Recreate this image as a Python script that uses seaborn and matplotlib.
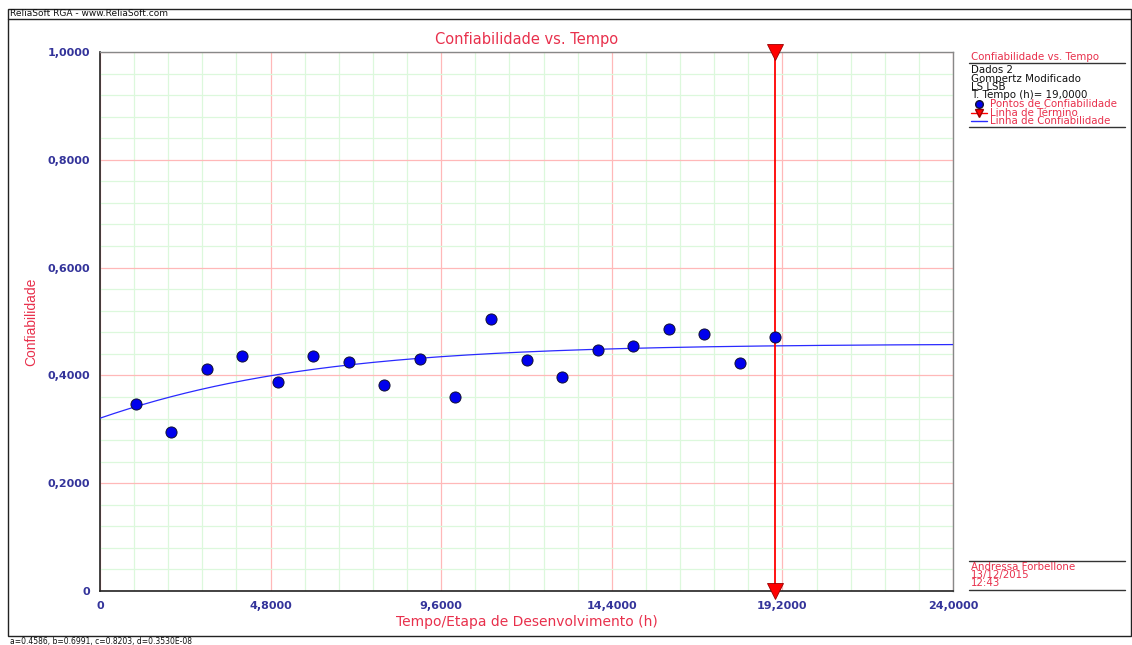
import numpy as np
import pandas as pd
import matplotlib
matplotlib.use("Agg")
import matplotlib.pyplot as plt
import seaborn as sns
from matplotlib.ticker import MultipleLocator, FixedLocator, FixedFormatter
from matplotlib.lines import Line2D

# ---------------- data ----------------
stage = [1, 2, 3, 4, 5, 6, 7, 8, 9, 10, 11, 12, 13, 14, 15, 16, 17, 18, 19]
reliability = [0.347, 0.295, 0.412, 0.436, 0.388, 0.436, 0.425, 0.382, 0.430,
               0.360, 0.505, 0.429, 0.397, 0.447, 0.455, 0.486, 0.477, 0.423, 0.471]
gompertz_a = 0.4586
gompertz_b = 0.6991
gompertz_c = 0.8203
gompertz_d = 0.3530e-08
term_time = 19.0
x_ticks = [0, 4.8, 9.6, 14.4, 19.2, 24.0]
x_tick_labels = ["0", "4,8000", "9,6000", "14,4000", "19,2000", "24,0000"]
y_ticks = [0, 0.2, 0.4, 0.6, 0.8, 1.0]
y_tick_labels = ["0", "0,2000", "0,4000", "0,6000", "0,8000", "1,0000"]
legend_info = ["Dados 2", "Gompertz Modificado", "LS LSB", "T. Tempo (h)= 19,0000"]
legend_entries = ["Pontos de Confiabilidade", "Linha de Término", "Linha de Confiabilidade"]
author_lines = ["Andressa Forbellone", "13/12/2015", "12:43"]

RED_TXT = "#e8304c"
BLUE_TXT = "#33339a"

sns.set_style("white")
plt.rcParams["font.family"] = ["DejaVu Sans"]

W, H = 1132, 645
fig = plt.figure(figsize=(W / 100, H / 100), dpi=100)

def fx(px):
    return px / W

def fy(py):
    return 1 - py / H

ax = fig.add_axes([fx(100), fy(591), fx(953) - fx(100), fy(52) - fy(591)])

# grid
ax.set_xlim(0, 24)
ax.set_ylim(0, 1)
ax.xaxis.set_major_locator(FixedLocator(x_ticks))
ax.xaxis.set_major_formatter(FixedFormatter(x_tick_labels))
ax.yaxis.set_major_locator(FixedLocator(y_ticks))
ax.yaxis.set_major_formatter(FixedFormatter(y_tick_labels))
ax.xaxis.set_minor_locator(MultipleLocator(0.96))
ax.yaxis.set_minor_locator(MultipleLocator(0.04))
ax.grid(which="minor", color="#dcf8dc", linewidth=0.9, zorder=0)
ax.grid(which="major", color="#ffb8b8", linewidth=0.9, zorder=0)
ax.set_axisbelow(True)

# fitted curve (Gompertz model with the parameters shown on the chart)
T = np.linspace(0, 24, 300)
curve = pd.DataFrame({"T": T, "R": gompertz_d + gompertz_a * gompertz_b ** (gompertz_c ** T)})
sns.lineplot(data=curve, x="T", y="R", ax=ax, color="#2a2aff", linewidth=0.9, zorder=3)

# termination line
ax.axvline(term_time, color="#ff0000", linewidth=1.3, zorder=4)
ax.plot([term_time, term_time], [0, 1], linestyle="none", marker="v", markersize=11,
        color="#ff0000", markeredgecolor="#990000", markeredgewidth=0.6, clip_on=False, zorder=6)

# points
pts = pd.DataFrame({"stage": stage, "R": reliability})
sns.scatterplot(data=pts, x="stage", y="R", ax=ax, color="#0000ee", edgecolor="#111133",
                linewidth=0.7, s=64, marker="o", zorder=5)

ax.set_xlabel("Tempo/Etapa de Desenvolvimento (h)", color=RED_TXT, fontsize=10, labelpad=3)
ax.set_ylabel("")
fig.text(fx(31), fy(322), "Confiabilidade", rotation=90, color=RED_TXT, fontsize=10,
         ha="center", va="center", family=["Liberation Sans Narrow", "Liberation Sans"])
ax.set_title("Confiabilidade vs. Tempo", color=RED_TXT, fontsize=10.5, pad=6)

ax.tick_params(which="major", direction="out", length=5, width=0.8, color="#333333",
               labelcolor=BLUE_TXT, labelsize=8, pad=2)
ax.tick_params(which="minor", length=0)
for lab in ax.get_xticklabels() + ax.get_yticklabels():
    lab.set_fontweight("bold")

for side in ["left", "bottom"]:
    ax.spines[side].set_color("#222222")
    ax.spines[side].set_linewidth(1.2)
for side in ["top", "right"]:
    ax.spines[side].set_color("#888888")
    ax.spines[side].set_linewidth(1.0)

# outer frame
fig.add_artist(plt.Rectangle((fx(8), fy(636)), fx(1131) - fx(8), fy(9) - fy(636),
                             fill=False, edgecolor="#222222", linewidth=1.0,
                             transform=fig.transFigure))
fig.add_artist(Line2D([fx(8), fx(1131)], [fy(19), fy(19)], color="#222222", linewidth=1.0,
                      transform=fig.transFigure))
fig.text(fx(10), fy(14), "ReliaSoft RGA - www.ReliaSoft.com", fontsize=6.5, color="#111111",
         va="center", ha="left")
fig.text(fx(10), fy(637), "a=0.4586, b=0.6991, c=0.8203, d=0.3530E-08", fontsize=5.5,
         color="#111111", va="top", ha="left")

# right-hand legend panel
FS = 7.4
LX = fx(971)
fig.text(LX, fy(57), "Confiabilidade vs. Tempo", fontsize=FS, color=RED_TXT, va="center")
fig.add_artist(Line2D([fx(969), fx(1125)], [fy(63), fy(63)], color="#333333", linewidth=1.0,
                      transform=fig.transFigure))
for i, t in enumerate(legend_info):
    fig.text(LX, fy(70 + 8.5 * i), t, fontsize=FS, color="#111111", va="center")
ey = [104, 112.5, 121]
fig.add_artist(Line2D([fx(979)], [fy(ey[0])], marker="o", markersize=5.5, color="#0000ee",
                      markeredgecolor="#111133", linestyle="none", transform=fig.transFigure))
fig.add_artist(Line2D([fx(971), fx(987)], [fy(ey[1]), fy(ey[1])], color="#ff0000", linewidth=1.0,
                      transform=fig.transFigure))
fig.add_artist(Line2D([fx(979)], [fy(ey[1])], marker="v", markersize=5.5, color="#ff0000",
                      markeredgecolor="#990000", linestyle="none", transform=fig.transFigure))
fig.add_artist(Line2D([fx(971), fx(987)], [fy(ey[2]), fy(ey[2])], color="#2a2aff", linewidth=1.0,
                      transform=fig.transFigure))
for y, t in zip(ey, legend_entries):
    fig.text(fx(990), fy(y), t, fontsize=FS, color=RED_TXT, va="center")
fig.add_artist(Line2D([fx(969), fx(1125)], [fy(127), fy(127)], color="#333333", linewidth=1.0,
                      transform=fig.transFigure))

fig.add_artist(Line2D([fx(969), fx(1125)], [fy(561), fy(561)], color="#333333", linewidth=1.0,
                      transform=fig.transFigure))
for i, t in enumerate(author_lines):
    fig.text(LX, fy(566.5 + 8.5 * i), t, fontsize=FS, color=RED_TXT, va="center")
fig.add_artist(Line2D([fx(969), fx(1125)], [fy(590), fy(590)], color="#333333", linewidth=1.0,
                      transform=fig.transFigure))

fig.savefig("out.png", dpi=100)
